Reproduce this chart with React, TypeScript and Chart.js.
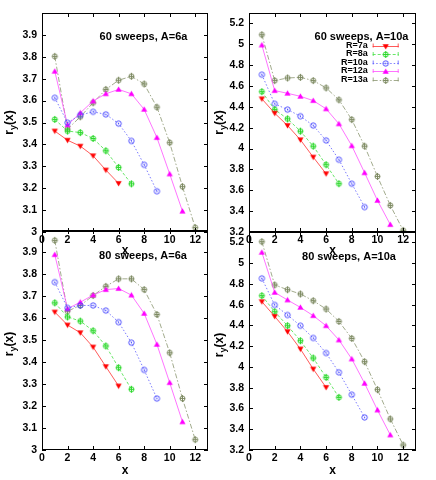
import React, { useEffect, useRef } from 'react';
import { Chart, registerables } from 'chart.js';
Chart.register(...registerables);

const FONT = '"Liberation Sans", Arial, Helvetica, sans-serif';

const xPositions = [1, 2, 3, 4, 5, 6, 7, 8, 9, 10, 11, 12];
const seriesLabels = ['R=7a', 'R=8a', 'R=10a', 'R=12a', 'R=13a'];

// 60 sweeps, A=6a
const s60a6R7 = [3.461, 3.419, 3.392, 3.348, 3.283, 3.222];
const s60a6R8 = [3.514, 3.461, 3.454, 3.427, 3.371, 3.295, 3.220];
const s60a6R10 = [3.613, 3.499, 3.534, 3.549, 3.537, 3.495, 3.416, 3.307, 3.186];
const s60a6R12 = [3.734, 3.489, 3.544, 3.598, 3.631, 3.651, 3.631, 3.560, 3.431, 3.265, 3.095];
const s60a6R13 = [3.802, 3.470, 3.526, 3.590, 3.651, 3.693, 3.711, 3.676, 3.570, 3.408, 3.207, 3.020];

// 60 sweeps, A=10a
const s60a10R7 = [4.477, 4.339, 4.221, 4.084, 3.918, 3.759];
const s60a10R8 = [4.546, 4.374, 4.285, 4.167, 4.023, 3.845, 3.663];
const s60a10R10 = [4.709, 4.429, 4.374, 4.310, 4.221, 4.078, 3.893, 3.663, 3.439];
const s60a10R12 = [4.993, 4.556, 4.530, 4.501, 4.460, 4.381, 4.237, 4.027, 3.768, 3.503, 3.271];
const s60a10R13 = [5.092, 4.652, 4.677, 4.683, 4.652, 4.582, 4.467, 4.278, 4.023, 3.733, 3.455, 3.216];

// 80 sweeps, A=6a
const s80a6R7 = [3.627, 3.568, 3.533, 3.468, 3.379, 3.291];
const s80a6R8 = [3.669, 3.605, 3.586, 3.542, 3.473, 3.374, 3.276];
const s80a6R10 = [3.763, 3.646, 3.657, 3.657, 3.634, 3.581, 3.488, 3.364, 3.234];
const s80a6R12 = [3.888, 3.642, 3.672, 3.704, 3.729, 3.734, 3.704, 3.621, 3.480, 3.306, 3.128];
const s80a6R13 = [3.953, 3.631, 3.657, 3.702, 3.744, 3.778, 3.778, 3.729, 3.616, 3.442, 3.234, 3.047];

// 80 sweeps, A=10a
const s80a10R7 = [4.629, 4.487, 4.340, 4.173, 3.980, 3.803];
const s80a10R8 = [4.687, 4.532, 4.397, 4.253, 4.086, 3.900, 3.707];
const s80a10R10 = [4.853, 4.597, 4.500, 4.397, 4.279, 4.134, 3.948, 3.733, 3.514];
const s80a10R12 = [5.104, 4.718, 4.645, 4.574, 4.494, 4.397, 4.260, 4.077, 3.842, 3.585, 3.345];
const s80a10R13 = [5.207, 4.790, 4.744, 4.703, 4.638, 4.558, 4.439, 4.275, 4.051, 3.781, 3.499, 3.248];

const xTickValues = [0, 2, 4, 6, 8, 10, 12];
const xTickLabels = ['0', '2', '4', '6', '8', '10', '12'];
const yTicksA6 = [3.0, 3.1, 3.2, 3.3, 3.4, 3.5, 3.6, 3.7, 3.8, 3.9];
const yTickLabelsA6 = ['3', '3.1', '3.2', '3.3', '3.4', '3.5', '3.6', '3.7', '3.8', '3.9'];
const yTicksA10 = [3.2, 3.4, 3.6, 3.8, 4.0, 4.2, 4.4, 4.6, 4.8, 5.0, 5.2];
const yTickLabelsA10 = ['3.2', '3.4', '3.6', '3.8', '4', '4.2', '4.4', '4.6', '4.8', '5', '5.2'];
const panelTitles = ['60 sweeps, A=6a', '60 sweeps, A=10a', '80 sweeps, A=6a', '80 sweeps, A=10a'];

const seriesStyles = [
  { color: '#ff0000', line: '#ff3030', dash: [] as number[], marker: 'down' },
  { color: '#2ad82a', line: '#44e044', dash: [3, 2], marker: 'circlePlus' },
  { color: '#4a4aff', line: '#5a5aff', dash: [1.5, 2], marker: 'circle' },
  { color: '#ff00ff', line: '#ff50ff', dash: [] as number[], marker: 'up' },
  { color: '#7d8a62', line: '#8a9670', dash: [5, 2, 1.5, 2], marker: 'circlePlus' },
];

const panels = [
  { title: panelTitles[0], series: [s60a6R7, s60a6R8, s60a6R10, s60a6R12, s60a6R13], yMin: 3, yMax: 4, yTicks: yTicksA6, yLabels: yTickLabelsA6,
    area: { l: 42, r: 208, t: 13, b: 232 }, titleAt: { x: 101.5, y: 23.7 }, yTitle: { x: -33, y: 0 }, xh: 26, legend: false },
  { title: panelTitles[1], series: [s60a10R7, s60a10R8, s60a10R10, s60a10R12, s60a10R13], yMin: 3.2, yMax: 5.3, yTicks: yTicksA10, yLabels: yTickLabelsA10,
    area: { l: 249, r: 416, t: 13, b: 232 }, titleAt: { x: 112.5, y: 23.7 }, yTitle: { x: -30, y: 0 }, xh: 26, legend: true },
  { title: panelTitles[2], series: [s80a6R7, s80a6R8, s80a6R10, s80a6R12, s80a6R13], yMin: 3, yMax: 4, yTicks: yTicksA6, yLabels: yTickLabelsA6,
    area: { l: 42, r: 208, t: 230, b: 450 }, titleAt: { x: 101, y: 26 }, yTitle: { x: -33, y: 4 }, xh: 28, legend: false },
  { title: panelTitles[3], series: [s80a10R7, s80a10R8, s80a10R10, s80a10R12, s80a10R13], yMin: 3.2, yMax: 5.3, yTicks: yTicksA10, yLabels: yTickLabelsA10,
    area: { l: 249, r: 416, t: 232, b: 450 }, titleAt: { x: 100, y: 24.7 }, yTitle: { x: -30, y: 4 }, xh: 28, legend: false },
];

function makeMarker(kind: string, color: string): HTMLCanvasElement {
  const c = document.createElement('canvas');
  c.width = 11;
  c.height = 11;
  const g = c.getContext('2d')!;
  const cx = 5.5, cy = 5.5;
  g.strokeStyle = color;
  g.fillStyle = color;
  g.lineWidth = 1;
  if (kind === 'down') {
    g.beginPath();
    g.moveTo(cx - 3.1, cy - 2.3);
    g.lineTo(cx + 3.1, cy - 2.3);
    g.lineTo(cx, cy + 2.9);
    g.closePath();
    g.fill();
  } else if (kind === 'up') {
    g.beginPath();
    g.moveTo(cx - 3.1, cy + 2.3);
    g.lineTo(cx + 3.1, cy + 2.3);
    g.lineTo(cx, cy - 2.9);
    g.closePath();
    g.fill();
  } else if (kind === 'circlePlus') {
    g.beginPath();
    g.arc(cx, cy, 2.5, 0, Math.PI * 2);
    g.stroke();
    g.beginPath();
    g.moveTo(cx, cy - 3.5);
    g.lineTo(cx, cy + 3.5);
    g.moveTo(cx - 2.5, cy);
    g.lineTo(cx + 2.5, cy);
    g.stroke();
  } else {
    g.beginPath();
    g.arc(cx, cy, 2.7, 0, Math.PI * 2);
    g.stroke();
    g.beginPath();
    g.moveTo(cx, cy - 0.8);
    g.lineTo(cx, cy + 0.8);
    g.stroke();
  }
  return c;
}

export default function App() {
  const refs = [useRef<HTMLCanvasElement>(null), useRef<HTMLCanvasElement>(null), useRef<HTMLCanvasElement>(null), useRef<HTMLCanvasElement>(null)];

  useEffect(() => {
    const markers = seriesStyles.map((s) => makeMarker(s.marker, s.color));
    const charts: Chart[] = [];
    panels.forEach((p, pi) => {
      const canvas = refs[pi].current;
      if (!canvas) return;
      const yw = 30;
      const plugin = {
        id: 'frame' + pi,
        afterDraw(chart: any) {
          const { ctx, chartArea: a, scales } = chart;
          const xs = scales.x, ys = scales.y;
          ctx.save();
          ctx.strokeStyle = '#000';
          ctx.lineWidth = 1;
          ctx.setLineDash([]);
          ctx.beginPath();
          for (const v of xTickValues) {
            const px = Math.round(xs.getPixelForValue(v)) + 0.5;
            ctx.moveTo(px, a.bottom);
            ctx.lineTo(px, a.bottom - 4);
            ctx.moveTo(px, a.top);
            ctx.lineTo(px, a.top + 4);
          }
          for (const v of p.yTicks) {
            const py = Math.round(ys.getPixelForValue(v)) + 0.5;
            ctx.moveTo(a.left, py);
            ctx.lineTo(a.left + 4, py);
            ctx.moveTo(a.right, py);
            ctx.lineTo(a.right - 4, py);
          }
          ctx.stroke();
          ctx.strokeRect(a.left + 0.5, a.top + 0.5, a.right - a.left - 1, a.bottom - a.top - 1);

          // panel title
          ctx.fillStyle = '#000';
          ctx.font = `bold 11px ${FONT}`;
          ctx.textAlign = 'center';
          ctx.textBaseline = 'middle';
          ctx.fillText(p.title, a.left + p.titleAt.x, a.top + p.titleAt.y);

          // y axis title r_y(x)
          ctx.save();
          ctx.translate(a.left + p.yTitle.x, (a.top + a.bottom) / 2 + p.yTitle.y);
          ctx.rotate(-Math.PI / 2);
          ctx.textAlign = 'left';
          ctx.textBaseline = 'alphabetic';
          ctx.font = `bold 12px ${FONT}`;
          const w1 = ctx.measureText('r').width;
          const w3 = ctx.measureText('(x)').width;
          ctx.font = `bold 9px ${FONT}`;
          const w2 = ctx.measureText('y').width;
          const x0 = -(w1 + w2 + w3) / 2;
          ctx.font = `bold 12px ${FONT}`;
          ctx.fillText('r', x0, 4);
          ctx.font = `bold 9px ${FONT}`;
          ctx.fillText('y', x0 + w1, 7);
          ctx.font = `bold 12px ${FONT}`;
          ctx.fillText('(x)', x0 + w1 + w2, 4);
          ctx.restore();

          // legend
          if (p.legend) {
            const tx = a.left + 118.7;
            const l1 = a.left + 123.7;
            const l2 = a.left + 149.7;
            seriesLabels.forEach((lab, i) => {
              const y = a.top + 32.5 + i * 8.5;
              const st = seriesStyles[i];
              ctx.fillStyle = '#000';
              ctx.font = `bold 9px ${FONT}`;
              ctx.textAlign = 'right';
              ctx.textBaseline = 'middle';
              ctx.fillText(lab, tx, y);
              ctx.strokeStyle = st.line;
              ctx.lineWidth = 0.8;
              ctx.setLineDash(st.dash);
              ctx.beginPath();
              ctx.moveTo(l1, Math.round(y) + 0.5);
              ctx.lineTo(l2, Math.round(y) + 0.5);
              ctx.stroke();
              ctx.setLineDash([]);
              ctx.beginPath();
              ctx.moveTo(l1 + 0.5, y - 2);
              ctx.lineTo(l1 + 0.5, y + 2);
              ctx.moveTo(l2 - 0.5, y - 2);
              ctx.lineTo(l2 - 0.5, y + 2);
              ctx.stroke();
              const m = markers[i];
              ctx.drawImage(m, (l1 + l2) / 2 - m.width / 2, Math.round(y) + 0.5 - m.height / 2);
            });
          }
          ctx.restore();
        },
      };

      const chart = new Chart(canvas, {
        type: 'line',
        data: {
          datasets: p.series.map((vals, si) => ({
            label: seriesLabels[si],
            data: vals.map((v, i) => ({ x: xPositions[i], y: v })),
            borderColor: seriesStyles[si].line,
            backgroundColor: seriesStyles[si].color,
            borderWidth: 0.8,
            borderDash: seriesStyles[si].dash,
            pointStyle: markers[si] as any,
            pointRadius: 3,
            tension: 0,
            fill: false,
            clip: 10,
          })),
        },
        options: {
          responsive: false,
          devicePixelRatio: 1,
          animation: false,
          events: [],
          layout: {
            padding: {
              left: p.area.l - yw,
              right: 436 - p.area.r,
              top: p.area.t,
              bottom: 480 - p.area.b - p.xh,
            },
          },
          plugins: {
            legend: { display: false },
            tooltip: { enabled: false },
            title: { display: false },
          },
          scales: {
            x: {
              type: 'linear',
              min: 0,
              max: 13,
              position: 'bottom',
              afterBuildTicks: (s: any) => {
                s.ticks = xTickValues.map((v) => ({ value: v }));
              },
              afterFit: (s: any) => {
                s.height = p.xh;
              },
              grid: { display: false, drawTicks: false },
              border: { display: false },
              ticks: {
                padding: 2,
                color: '#000',
                autoSkip: false,
                maxRotation: 0,
                font: { size: 10.5, weight: 'bold', family: FONT },
                callback: (_v: any, i: number) => xTickLabels[i],
              },
              title: {
                display: true,
                text: 'x',
                color: '#000',
                padding: 0,
                font: { size: 12, weight: 'bold', family: FONT },
              },
            },
            y: {
              type: 'linear',
              min: p.yMin,
              max: p.yMax,
              position: 'left',
              afterBuildTicks: (s: any) => {
                s.ticks = p.yTicks.map((v) => ({ value: v }));
              },
              afterFit: (s: any) => {
                s.width = yw;
              },
              grid: { display: false, drawTicks: false },
              border: { display: false },
              ticks: {
                padding: 5,
                color: '#000',
                autoSkip: false,
                font: { size: 10.5, weight: 'bold', family: FONT },
                callback: (_v: any, i: number) => p.yLabels[i],
              },
            },
          },
        } as any,
        plugins: [plugin],
      });
      charts.push(chart);
    });
    return () => {
      charts.forEach((c) => c.destroy());
    };
  }, []);

  return (
    <div style={{ position: 'absolute', left: 0, top: 0, width: 436, height: 480, background: '#fff' }}>
      {refs.map((r, i) => (
        <canvas
          key={i}
          ref={r}
          width={436}
          height={480}
          style={{ position: 'absolute', left: 0, top: 0, width: 436, height: 480 }}
        />
      ))}
    </div>
  );
}
